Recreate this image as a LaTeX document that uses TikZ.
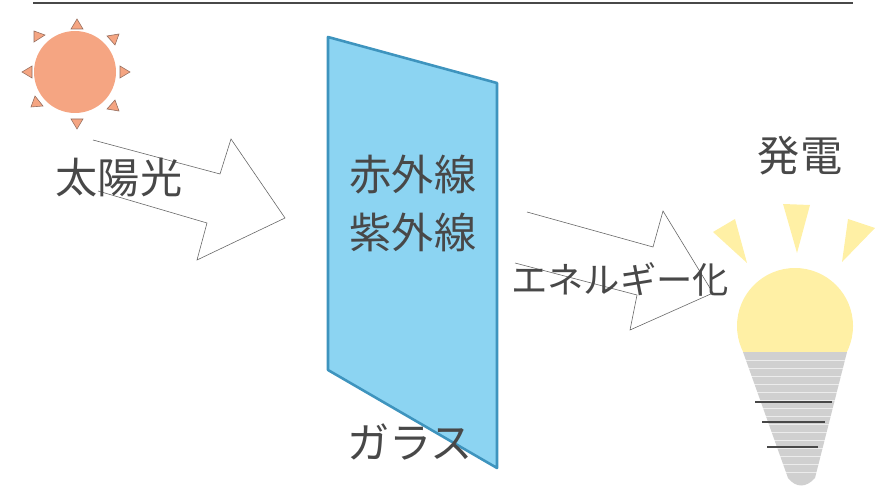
\documentclass[tikz,border=0pt]{standalone}
\usepackage{fontspec}
\newfontfamily\jpfont{Noto Sans CJK JP}
\definecolor{textgrau}{RGB}{72,72,72}
\definecolor{sonne}{RGB}{245,165,130}
\definecolor{sonnerand}{RGB}{150,110,95}
\definecolor{glas}{RGB}{140,212,242}
\definecolor{glasrand}{RGB}{62,148,190}
\definecolor{lampe}{RGB}{255,240,165}
\definecolor{sockel}{RGB}{208,208,208}
\tikzset{
	beschriftung/.style={text=textgrau, inner sep=0pt, font=\jpfont\fontsize{36}{40}\selectfont},
	blockpfeil/.style={draw=gray!80!black, line width=0.5pt, fill=white},
	strahl/.style={sonne, draw=sonnerand, line width=0.5pt},
}
\begin{document}
\begin{tikzpicture}[x=0.03cm, y=-0.03cm, >=latex]
		\useasboundingbox (0,0) rectangle (878,486);
		
		% Linie oben
		\draw[line width=2pt, textgrau] (33,3) -- (853,3);
		
		% Sonne
		\fill[sonne] (75,72) circle (41);
		\filldraw[strahl] (71,29) -- (77,19) -- (83,29) -- cycle;
		\filldraw[strahl] (107,36) -- (119,34) -- (115,45) -- cycle;
		\filldraw[strahl] (120,66) -- (130,72) -- (120,78) -- cycle;
		\filldraw[strahl] (115,100) -- (119,111) -- (107,109) -- cycle;
		\filldraw[strahl] (71,119) -- (77,129) -- (83,119) -- cycle;
		\filldraw[strahl] (35,96) -- (31,107) -- (43,106) -- cycle;
		\filldraw[strahl] (32,66) -- (22,72) -- (32,78) -- cycle;
		\filldraw[strahl] (34,42) -- (34,31) -- (45,35) -- cycle;
		
		% Pfeil Sonnenlicht
		\filldraw[blockpfeil] (93,140) -- (220,174) -- (231,139) -- (285,218) -- (197,260) -- (207,223) -- (98,191);
		\node[beschriftung] (sonnenlicht) at (119,178) {太陽光};
		
		% Glas
		\filldraw[glas, draw=glasrand, line width=2.2pt, line join=round] (328,37) -- (497,83) -- (497,468) -- (328,370) -- cycle;
		\node[beschriftung] (infrarot) at (413,175) {赤外線};
		\node[beschriftung] (ultraviolett) at (413,232) {紫外線};
		\node[beschriftung] (glasname) at (410,442) {ガラス};
		
		% Pfeil Energie
		\filldraw[blockpfeil] (527,212) -- (653,247) -- (663,211) -- (713,293) -- (630,330) -- (637,295) -- (515,263);
		\node[beschriftung, font=\jpfont\fontsize{31}{34}\selectfont] (energie) at (620,279) {エネルギー化};
		
		% Lampe
		\node[beschriftung] (strom) at (800,156) {発電};
		\fill[lampe] (713,232) -- (735,219) -- (747,263) -- cycle;
		\fill[lampe] (783,204) -- (810,205) -- (797,253) -- cycle;
		\fill[lampe] (848,219) -- (875,228) -- (842,262) -- cycle;
		\begin{scope}
			\clip (700,250) rectangle (880,352);
			\fill[lampe] (795,326) circle (58);
		\end{scope}
		\fill[sockel] (743,352) -- (847,352) -- (815,478) .. controls (806,488) and (796,488) .. (788,478) -- cycle;
		\foreach \y in {360,368,...,472} \draw[white, line width=0.4pt, opacity=0.6] (740,\y) -- (850,\y);
		\draw[textgrau, line width=1pt] (755,402) -- (832,402);
		\draw[textgrau, line width=1pt] (762,422) -- (825,422);
		\draw[textgrau, line width=1pt] (767,447) -- (818,447);
		
	\end{tikzpicture}
\end{document}
